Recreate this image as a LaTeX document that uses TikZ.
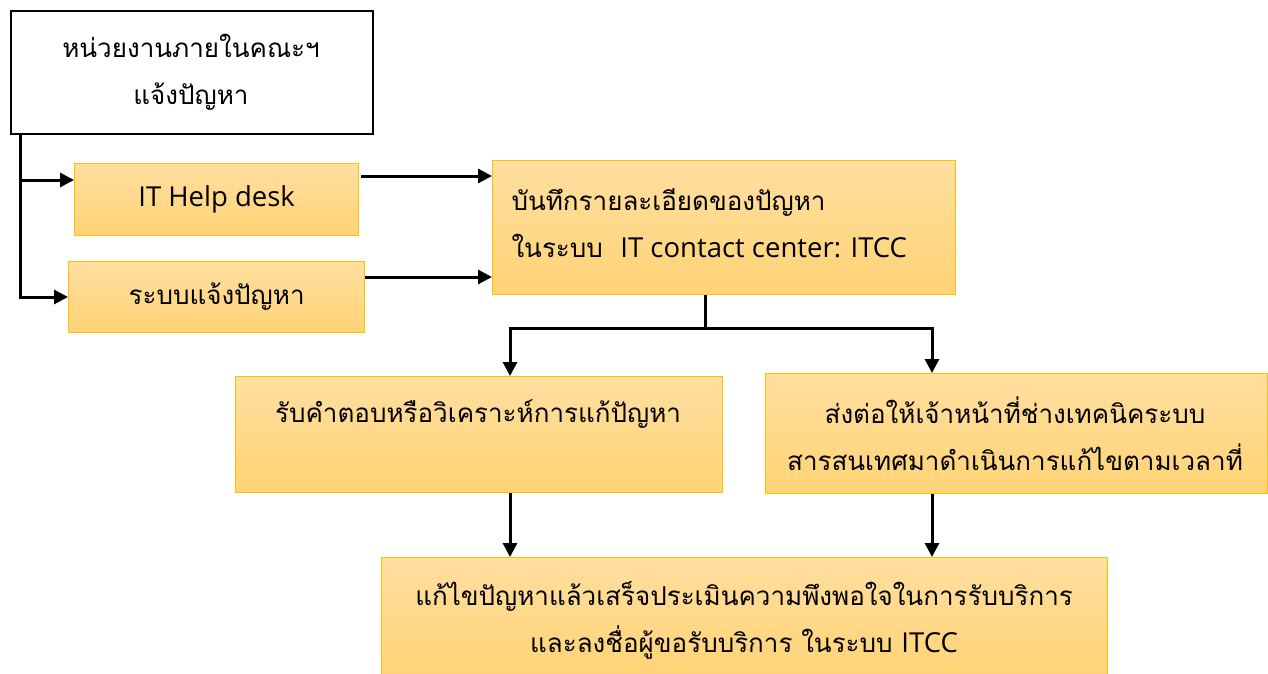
\documentclass[tikz,border=0pt]{standalone}
\usepackage{fontspec}
\setmainfont[Script=Thai]{Loma}
\newfontfamily\latinfont{Open Sans}
\newcommand{\lat}[1]{{\latinfont\fontsize{27.5}{47}\selectfont #1}}
\usetikzlibrary{arrows.meta}
\definecolor{boxtop}{HTML}{FFDFA0}
\definecolor{boxbot}{HTML}{FFD375}
\definecolor{boxline}{HTML}{FFC000}
\tikzset{
  obox/.style={draw=boxline, line width=1.2pt, top color=boxtop, bottom color=boxbot, inner sep=0pt},
  conn/.style={line width=3pt, -{Triangle[length=14pt,width=14pt]}},
  plain/.style={line width=3pt},
  txt/.style={font=\fontsize{26}{47}\selectfont, align=center}
}
\begin{document}
\begin{tikzpicture}[x=1pt,y=-1pt]
\useasboundingbox (0,0) rectangle (1268,674);
% boxes
\node[draw=black, line width=2pt, minimum width=362pt, minimum height=123pt, anchor=north west, fill=white] (top) at (10,10) {};
\node[txt, anchor=center] (toptext) at (191,72) {หน่วยงานภายในคณะฯ\\แจ้งปัญหา};
\node[obox, minimum width=284pt, minimum height=72pt, anchor=north west] (help) at (74,163) {};
\node[txt] at (help.center) {\lat{IT Help desk}};
\node[obox, minimum width=296pt, minimum height=71pt, anchor=north west] (sys) at (68,261) {};
\node[txt] at (sys.center) {ระบบแจ้งปัญหา};
\node[obox, minimum width=463pt, minimum height=134pt, anchor=north west] (rec) at (492,160) {};
\node[txt, align=left, anchor=west] at (508,223) {บันทึกรายละเอียดของปัญหา\\ในระบบ~~\lat{IT contact center: ITCC}};
\node[obox, minimum width=487pt, minimum height=116pt, anchor=north west] (ans) at (235,376) {};
\node[txt, anchor=center] at (478,414) {รับคำตอบหรือวิเคราะห์การแก้ปัญหา};
\node[obox, minimum width=502pt, minimum height=120pt, anchor=north west] (fwd) at (765,373) {};
\node[txt, anchor=center] at (1015,434) {ส่งต่อให้เจ้าหน้าที่ช่างเทคนิคระบบ\\สารสนเทศมาดำเนินการแก้ไขตามเวลาที่};
\node[obox, minimum width=726pt, minimum height=120pt, anchor=north west] (fin) at (381,557) {};
\node[txt, anchor=center] at (744,620) {แก้ไขปัญหาแล้วเสร็จประเมินความพึงพอใจในการรับบริการ\\และลงชื่อผู้ขอรับบริการ ในระบบ \lat{ITCC}};
% connectors
\coordinate (a0) at (20,133);
\coordinate (a1) at (20,180);
\coordinate (a2) at (20,297);
\draw[plain] (a0) -- (a2 |- 0,298.5);
\draw[conn] ([xshift=-1.5pt]a1) -- (help.west |- a1);
\draw[conn] ([xshift=-1.5pt]a2) -- (sys.west |- a2);
\draw[conn] (361,176) -- (rec.west |- 0,176);
\draw[conn] (sys.east |- 0,277) -- (rec.west |- 0,277);
\coordinate (m) at (705,328);
\draw[plain] (rec.south -| m) -- (m);
\coordinate (l) at (510,328);
\coordinate (r) at (932,328);
\draw[plain] ([xshift=-1.5pt]l) -- ([xshift=1.5pt]r);
\draw[conn] ([yshift=-1.5pt]l) -- (l |- ans.north);
\draw[conn] ([yshift=-1.5pt]r) -- (r |- fwd.north);
\draw[conn] (ans.south -| l) -- (l |- fin.north);
\draw[conn] (fwd.south -| r) -- (r |- fin.north);
\end{tikzpicture}
\end{document}
